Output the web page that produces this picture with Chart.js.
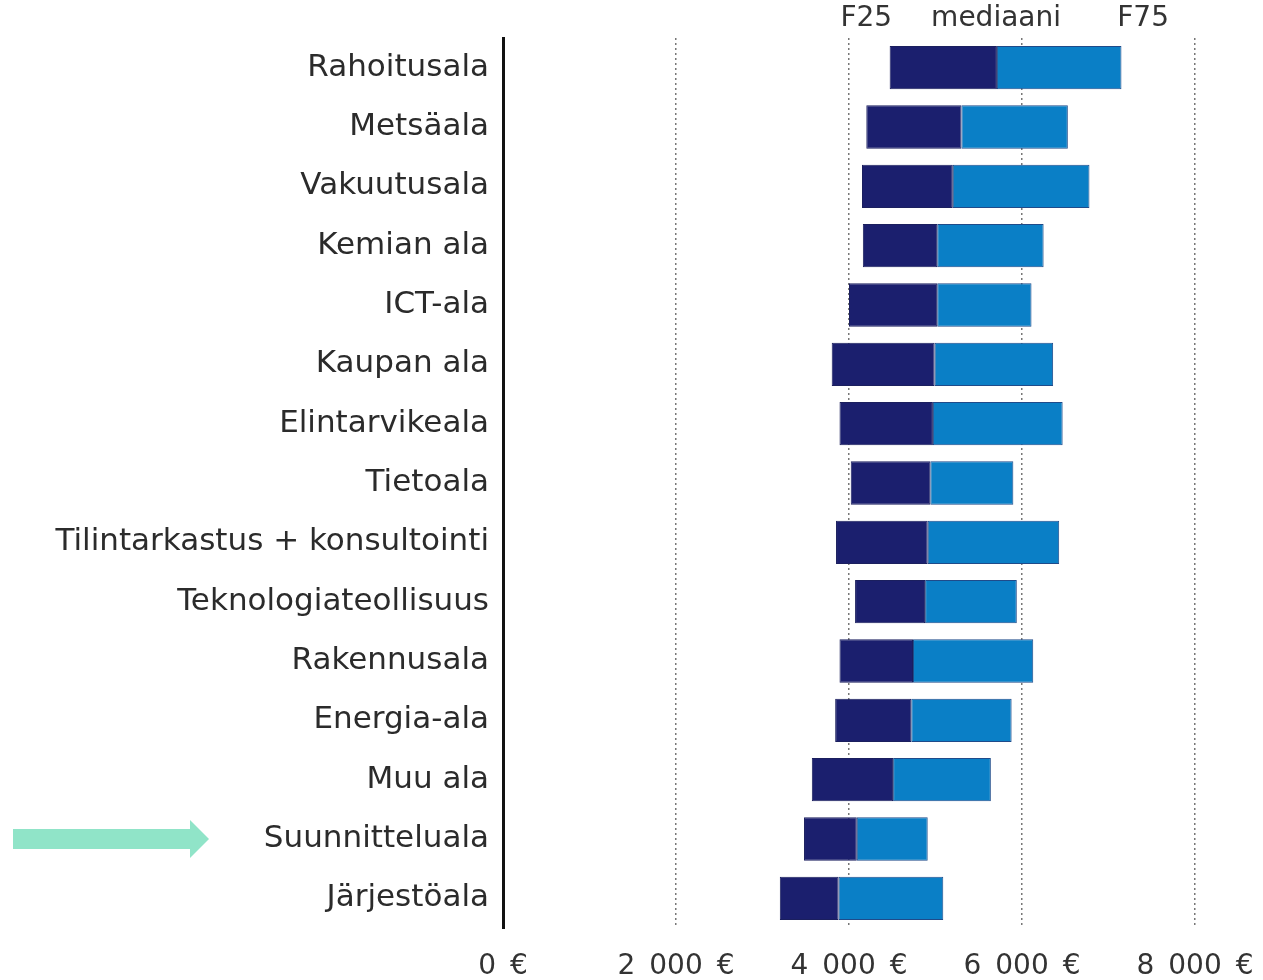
<!DOCTYPE html>
<html>
<head>
<meta charset="utf-8">
<script src="https://cdn.jsdelivr.net/npm/chart.js@4"></script>
<style>
  body { margin: 0; background: #fff; }
  #wrap { width: 1263px; height: 980px; }
</style>
</head>
<body>
<div id="wrap"><canvas id="salary_chart"></canvas></div>
<script>
const categories = ['Rahoitusala', 'Metsäala', 'Vakuutusala', 'Kemian ala', 'ICT-ala', 'Kaupan ala',
    'Elintarvikeala', 'Tietoala', 'Tilintarkastus + konsultointi', 'Teknologiateollisuus',
    'Rakennusala', 'Energia-ala', 'Muu ala', 'Suunnitteluala', 'Järjestöala']
const f25 = [4470, 4200, 4150, 4160, 4000, 3800, 3890, 4020, 3850, 4070, 3890, 3840, 3570, 3480, 3200]
const median = [5710, 5300, 5200, 5020, 5020, 4990, 4970, 4940, 4910, 4880, 4740, 4720, 4510, 4090, 3880]
const f75 = [7150, 6530, 6780, 6250, 6110, 6360, 6470, 5900, 6430, 5940, 6130, 5880, 5640, 4910, 5090]
const headerLabels = ['F25', 'mediaani', 'F75']
const headerValues = [4200, 5700, 7400]
const highlighted = 'Suunnitteluala'

const fontName = '"DejaVu Sans"'
// thousands separated with an en space, like the original
const fmt = (v) => v.toLocaleString('fi-FI').replace(/\s/g, '\u2002') + '\u2002€'

const extras = {
    id: 'extras',
    afterDraw(chart) {
        const ctx = chart.ctx
        const x = chart.scales.x
        const y = chart.scales.y
        ctx.save()
        // column headers
        ctx.fillStyle = '#333'
        ctx.font = '28px ' + fontName
        ctx.textAlign = 'center'
        ctx.textBaseline = 'middle'
        headerLabels.forEach((t, i) => {
            ctx.fillText(t, x.getPixelForValue(headerValues[i]), 19)
        })
        // arrow pointing at highlighted row
        const cy = y.getPixelForValue(categories.indexOf(highlighted))
        ctx.fillStyle = '#90e4c8'
        ctx.beginPath()
        ctx.moveTo(13, cy - 10)
        ctx.lineTo(190, cy - 10)
        ctx.lineTo(190, cy - 19)
        ctx.lineTo(209, cy)
        ctx.lineTo(190, cy + 19)
        ctx.lineTo(190, cy + 10)
        ctx.lineTo(13, cy + 10)
        ctx.closePath()
        ctx.fill()
        ctx.restore()
    }
}

const ctx = document.querySelector('#salary_chart').getContext('2d')
new Chart(ctx, {
    type: 'bar',
    data: {
        labels: categories,
        datasets: [{
            label: 'F25 - mediaani',
            data: f25.map((v, i) => [v, median[i]]),
            backgroundColor: '#1b1f6e',
            borderColor: '#1b1f5e',
            borderWidth: 1,
            borderSkipped: false,
            grouped: false,
            barPercentage: 0.73,
            categoryPercentage: 1
        }, {
            label: 'mediaani - F75',
            data: median.map((v, i) => [v, f75[i]]),
            backgroundColor: '#0a7fc6',
            borderColor: '#1f4b8a',
            borderWidth: 1,
            borderSkipped: false,
            grouped: false,
            barPercentage: 0.73,
            categoryPercentage: 1
        }]
    },
    options: {
        indexAxis: 'y',
        responsive: true,
        maintainAspectRatio: false,
        animation: false,
        layout: { padding: { top: 38, right: 68, left: 0, bottom: 0 } },
        plugins: {
            legend: { display: false },
            tooltip: { enabled: false }
        },
        scales: {
            x: {
                min: 0,
                max: 8000,
                afterFit: (s) => {
                    s.height = 52
                    s.paddingLeft = 0
                    s.paddingRight = 0
                },
                ticks: {
                    stepSize: 2000,
                    padding: 22,
                    color: '#333',
                    font: { family: fontName, size: 28 },
                    callback: (v) => fmt(v)
                },
                grid: {
                    drawTicks: false,
                    color: (c) => c.tick && c.tick.value === 0 ? 'rgba(0,0,0,0)' : '#777',
                    lineWidth: 1.5
                },
                border: { display: false, dash: [2, 3] }
            },
            y: {
                afterFit: (s) => { s.width = 503 },
                ticks: {
                    padding: 14,
                    color: '#2b2b2b',
                    font: { family: fontName, size: 31 }
                },
                grid: { display: false, drawTicks: false },
                border: { display: true, color: '#111', width: 3 }
            }
        }
    },
    plugins: [extras]
})
</script>
</body>
</html>
